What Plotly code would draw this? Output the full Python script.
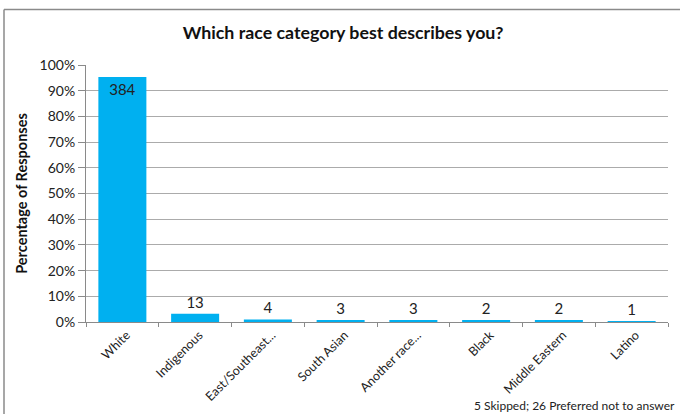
import plotly.graph_objects as go

categories = ["White", "Indigenous", "East/Southeast...", "South Asian", "Another race...",
              "Black", "Middle Eastern", "Latino"]
percentages = [95.3, 3.2, 1.0, 0.7, 0.7, 0.5, 0.5, 0.2]
counts = [384, 13, 4, 3, 3, 2, 2, 1]
y_ticks = list(range(0, 101, 10))
y_tick_labels = [f"{v}%" for v in y_ticks]

FONT = "Lato"
W, H = 680, 414
L, R, T, B = 86, 12, 65, 92
pw, ph = W - L - R, H - T - B

positions = ["inside" if p > 50 else "outside" for p in percentages]

fig = go.Figure()
fig.add_trace(go.Bar(
    x=categories, y=percentages,
    marker=dict(color="#00b0f0", line=dict(width=0)),
    text=[str(c) for c in counts],
    textposition=positions,
    insidetextanchor="end",
    textangle=0,
    textfont=dict(family=FONT, size=15, color="#222222"),
    outsidetextfont=dict(family=FONT, size=15, color="#222222"),
    insidetextfont=dict(family=FONT, size=15, color="#222222"),
    cliponaxis=False,
    hoverinfo="skip",
))

fig.update_layout(
    width=W, height=H,
    margin=dict(l=L, r=R, t=T, b=B),
    paper_bgcolor="white", plot_bgcolor="white",
    bargap=0.34,
    showlegend=False,
    title=dict(text="<b>Which race category best describes you?</b>",
               x=343 / W, xanchor="center", y=1 - 33 / H, yanchor="middle",
               yref="container", font=dict(family=FONT, size=17.8, color="#111111")),
    font=dict(family=FONT, color="#222222"),
)

fig.update_yaxes(
    range=[0, 100], tickvals=y_ticks, ticktext=y_tick_labels,
    showgrid=True, gridcolor="#ababab", gridwidth=1,
    showline=True, linecolor="#8a8a8a", linewidth=1,
    ticks="outside", ticklen=7, tickcolor="#8a8a8a",
    tickfont=dict(family=FONT, size=14, color="#222222"),
    title=dict(text="<b>Percentage of Responses</b>", standoff=8,
               font=dict(family=FONT, size=14.5, color="#111111")),
    zeroline=False, fixedrange=True, automargin=False,
)
fig.update_xaxes(
    showline=True, linecolor="#8a8a8a", linewidth=1,
    ticks="outside", tickson="boundaries", ticklen=4, tickcolor="#8a8a8a",
    tickangle=-45, tickfont=dict(family=FONT, size=12.5, color="#222222"),
    ticklabelshift=4,
    showgrid=False, fixedrange=True, automargin=False,
)

# outer chart frame (top and left edges visible)
x_left = (4 - L) / pw
x_right = (W + 10 - L) / pw
y_top = 1 + (T - 9.5) / ph
y_bot = -(H + 10 - (H - B)) / ph
fig.add_shape(type="line", xref="paper", yref="paper", x0=x_left, x1=x_right, y0=y_top, y1=y_top,
              line=dict(color="#8a8a8a", width=1.5))
fig.add_shape(type="line", xref="paper", yref="paper", x0=x_left, x1=x_left, y0=y_top, y1=y_bot,
              line=dict(color="#8a8a8a", width=1.5))

fig.add_annotation(text="5 Skipped; 26 Preferred not to answer",
                   xref="paper", yref="paper", x=(677 - L) / pw, y=-(405 - (H - B)) / ph,
                   xanchor="right", yanchor="middle", showarrow=False,
                   font=dict(family=FONT, size=12, color="#222222"))

fig.write_html("out.html")
